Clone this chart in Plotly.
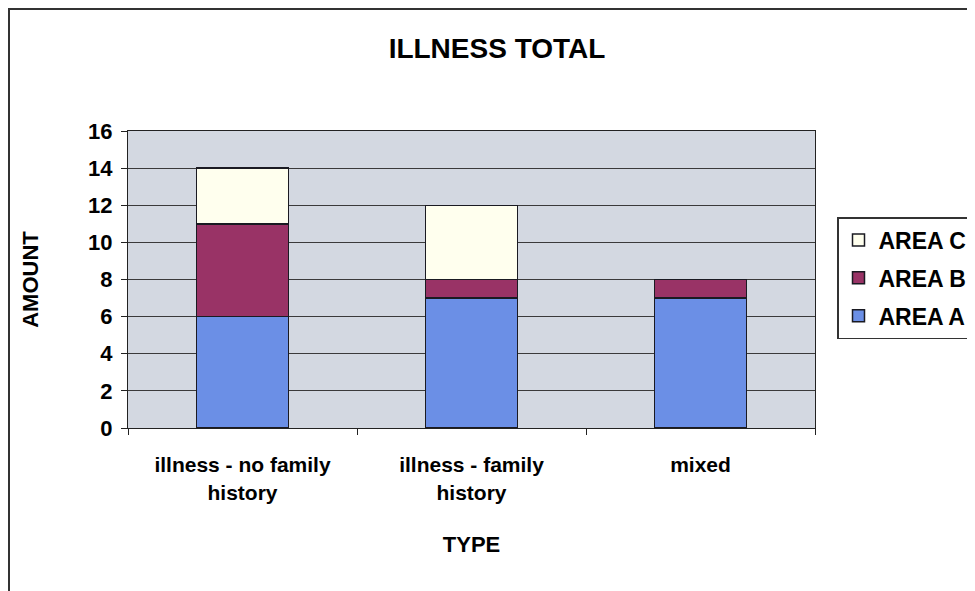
import plotly.graph_objects as go

categories = ["illness - no family<br>history", "illness - family<br>history", "mixed"]
area_a = [6, 7, 7]
area_b = [5, 1, 1]
area_c = [3, 4, 0]
y_ticks = [0, 2, 4, 6, 8, 10, 12, 14, 16]

FONT = "Liberation Sans, Arial, sans-serif"
fig = go.Figure()
series = [
    ("AREA A", area_a, "#6B8FE6", 3),
    ("AREA B", area_b, "#993366", 2),
    ("AREA C", area_c, "#FFFFEE", 1),
]
for name, vals, col, rank in series:
    fig.add_trace(go.Bar(
        x=categories, y=vals, name=name, legendgroup=name, legendrank=rank,
        marker=dict(color=col, line=dict(color="#1a1a22", width=1.5)),
    ))

# page has an 8px body margin; figure px = screen px - 8
OFF = 8
# plot area on screen: x 128-815, y 131-428
def px_x(p):
    return (p - 128) / 687.0

def px_y(p):
    return (428 - p) / 297.0

fig.update_layout(
    width=975, height=591,
    margin=dict(l=128 - OFF, r=975 - (815 - OFF), t=131 - OFF, b=591 - (428 - OFF)),
    barmode="stack", bargap=0.6,
    paper_bgcolor="white", plot_bgcolor="#D3D8E1",
    font=dict(family=FONT, color="black"),
    title=dict(text="<b>ILLNESS TOTAL</b>", x=(497 - OFF) / 975, xref="container",
               xanchor="center", y=1 - (48 - OFF) / 591, yref="container", yanchor="middle",
               font=dict(size=28, family=FONT, color="black")),
    legend=dict(x=(837 - OFF) / 975, y=1 - (217 - OFF) / 591, xref="container", yref="container",
                xanchor="left", yanchor="top",
                traceorder="grouped", tracegroupgap=5,
                bordercolor="#333333", borderwidth=1.5, bgcolor="white",
                font=dict(size=23, family=FONT, color="black", weight="bold")),
    xaxis=dict(
        title=dict(text="<b>TYPE</b>", font=dict(size=22, family=FONT), standoff=34),
        tickfont=dict(size=21, family=FONT, weight="bold"),
        showline=True, linecolor="#222222", linewidth=1.2, mirror=True,
        ticks="outside", ticklen=6, tickcolor="#222222", tickson="boundaries",
        showgrid=False, automargin=False, ticklabelstandoff=18,
    ),
    yaxis=dict(
        title=dict(text="<b>AMOUNT</b>", font=dict(size=22, family=FONT), standoff=43),
        tickfont=dict(size=22, family=FONT, weight="bold"),
        range=[0, 16], tickvals=y_ticks,
        showline=True, linecolor="#222222", linewidth=1.2, mirror=True,
        ticks="outside", ticklen=6, tickcolor="#222222",
        showgrid=True, gridcolor="#3a3a3a", gridwidth=1,
        zeroline=False, ticklabelstandoff=4, automargin=False,
    ),
    shapes=[
        dict(type="line", xref="paper", yref="paper", x0=px_x(9), x1=px_x(9),
             y0=px_y(9), y1=px_y(600), line=dict(color="#333333", width=2)),
        dict(type="line", xref="paper", yref="paper", x0=px_x(8), x1=px_x(990),
             y0=px_y(9), y1=px_y(9), line=dict(color="#333333", width=2)),
    ],
)

fig.write_html("out.html")
